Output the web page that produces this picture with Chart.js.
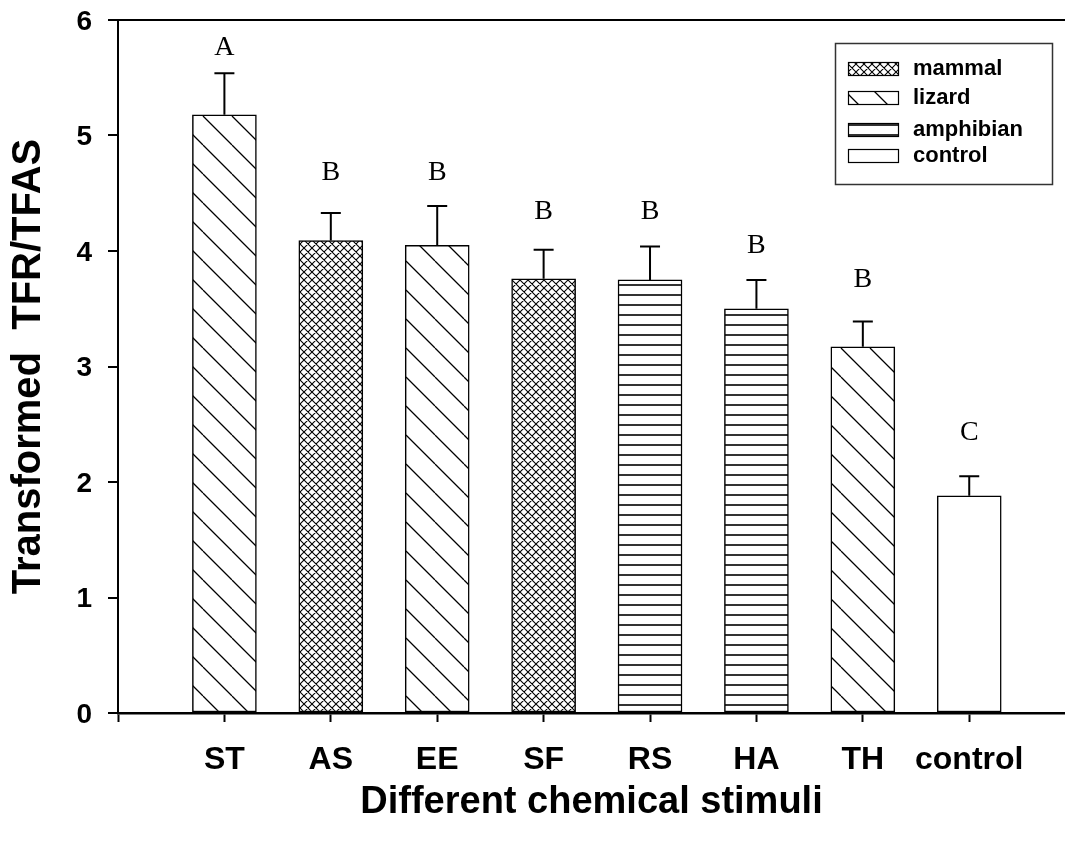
<!DOCTYPE html>
<html>
<head>
<meta charset="utf-8">
<title>Transformed TFR/TFAS by chemical stimulus</title>
<script src="https://cdn.jsdelivr.net/npm/chart.js@4.4.1/dist/chart.umd.min.js"></script>
<style>
  body { margin: 0; background: #fff; }
  canvas { display: block; }
</style>
</head>
<body>
<canvas id="chart" width="1065" height="841"></canvas>
<script>
// bar means, standard errors and significance letters per stimulus
const stimuli = ['ST', 'AS', 'EE', 'SF', 'RS', 'HA', 'TH', 'control'];
const stimulusGroup = ['lizard', 'mammal', 'lizard', 'mammal', 'amphibian', 'amphibian', 'lizard', 'control'];
const meanValues = [5.18, 4.09, 4.05, 3.76, 3.75, 3.50, 3.17, 1.88];
const stdErrors = [0.36, 0.24, 0.34, 0.25, 0.29, 0.25, 0.22, 0.17];
const letters = ['A', 'B', 'B', 'B', 'B', 'B', 'B', 'C'];
const letterLevels = [5.76, 4.68, 4.68, 4.34, 4.34, 4.05, 3.75, 2.43];
const legendGroups = ['mammal', 'lizard', 'amphibian', 'control'];
const yTicks = [0, 1, 2, 3, 4, 5, 6];

const SANS = '"Liberation Sans", Arial, Helvetica, sans-serif';
const SERIF = '"Liberation Serif", "Times New Roman", serif';

// hatch fills, one per animal group
function makePattern(kind) {
  const c = document.createElement('canvas');
  const g = c.getContext('2d');
  let s = 10;
  if (kind === 'lizard') s = 29;
  if (kind === 'mammal') s = 8;
  c.width = s; c.height = s;
  g.fillStyle = '#fff';
  g.fillRect(0, 0, s, s);
  g.strokeStyle = '#000';
  if (kind === 'lizard' || kind === 'mammal') {
    g.lineWidth = kind === 'lizard' ? 1.3 : 1.1;
    g.beginPath();
    for (const o of [-s, 0, s]) {
      g.moveTo(o, 0); g.lineTo(o + s, s);
      if (kind === 'mammal') { g.moveTo(o, s); g.lineTo(o + s, 0); }
    }
    g.stroke();
  } else if (kind === 'amphibian') {
    g.lineWidth = 1.6;
    g.beginPath();
    g.moveTo(0, 5); g.lineTo(s, 5);
    g.stroke();
  }
  return g.createPattern(c, 'repeat');
}

const patterns = {};
['mammal', 'lizard', 'amphibian', 'control'].forEach(k => patterns[k] = makePattern(k));

const errorBars = {
  id: 'errorBars',
  afterDatasetsDraw(chart) {
    const { ctx, scales: { x, y } } = chart;
    ctx.save();
    ctx.strokeStyle = '#000';
    ctx.lineWidth = 2;
    meanValues.forEach((m, i) => {
      const px = x.getPixelForValue(i);
      const top = y.getPixelForValue(m + stdErrors[i]);
      ctx.beginPath();
      ctx.moveTo(px, y.getPixelForValue(m));
      ctx.lineTo(px, top);
      ctx.moveTo(px - 10, top);
      ctx.lineTo(px + 10, top);
      ctx.stroke();
    });
    // letters of the post-hoc groups
    ctx.fillStyle = '#000';
    ctx.font = '28px ' + SERIF;
    ctx.textAlign = 'center';
    ctx.textBaseline = 'middle';
    letters.forEach((l, i) => {
      ctx.fillText(l, x.getPixelForValue(i), y.getPixelForValue(letterLevels[i]));
    });
    ctx.restore();
  }
};

const boxLegend = {
  id: 'boxLegend',
  afterDraw(chart) {
    const ctx = chart.ctx;
    const rows = [69, 98, 130, 156];
    ctx.save();
    ctx.strokeStyle = '#333';
    ctx.lineWidth = 1.5;
    ctx.strokeRect(835.5, 43.5, 217, 141);
    ctx.font = 'bold 22px ' + SANS;
    ctx.textBaseline = 'middle';
    ctx.textAlign = 'left';
    legendGroups.forEach((name, i) => {
      const cy = rows[i];
      ctx.fillStyle = patterns[name] || '#fff';
      ctx.fillRect(848, cy - 7, 51, 14);
      ctx.lineWidth = 1.2;
      ctx.strokeStyle = '#000';
      ctx.strokeRect(848.5, cy - 6.5, 50, 13);
      ctx.fillStyle = '#000';
      ctx.fillText(name, 913, cy);
    });
    ctx.restore();
  }
};

new Chart(document.getElementById('chart'), {
  type: 'bar',
  data: {
    datasets: [{
      data: meanValues.map((v, i) => ({ x: i, y: v })),
      backgroundColor: stimulusGroup.map(g => patterns[g]),
      borderColor: '#000',
      borderWidth: 1.5,
      borderSkipped: false,
      barThickness: 64
    }]
  },
  options: {
    responsive: false,
    animation: false,
    layout: { padding: { top: 20, right: 0, bottom: 0, left: 0 } },
    plugins: { legend: { display: false }, tooltip: { enabled: false } },
    scales: {
      x: {
        type: 'linear',
        min: -1,
        max: 7.9,
        offset: false,
        afterBuildTicks: s => { s.ticks = [-1].concat(stimuli.map((_, i) => i)).map(v => ({ value: v })); },
        afterFit: s => { s.height = 128; s.paddingLeft = 0; s.paddingRight = 0; },
        grid: { offset: false, drawOnChartArea: false, tickLength: 9, tickColor: '#000', tickWidth: 2 },
        border: { color: '#000', width: 2.5 },
        ticks: {
          autoSkip: false,
          maxRotation: 0,
          padding: 19,
          color: '#000',
          font: { family: SANS, size: 32, weight: 'bold' },
          callback: v => stimuli[v] ?? ''
        },
        title: {
          display: true,
          text: 'Different chemical stimuli',
          color: '#000',
          font: { family: SANS, size: 38, weight: 'bold' },
          padding: { top: 0, bottom: 16 }
        }
      },
      y: {
        min: 0,
        max: 6,
        afterBuildTicks: s => { s.ticks = yTicks.map(v => ({ value: v })); },
        afterFit: s => { s.width = 118; s.paddingTop = 0; s.paddingBottom = 0; },
        grid: {
          color: c => (c.tick && c.tick.value === 6 ? '#000' : 'rgba(0,0,0,0)'),
          lineWidth: 2,
          tickColor: '#000',
          tickLength: 10,
          tickWidth: 2
        },
        border: { color: '#000', width: 2 },
        ticks: {
          padding: 16,
          labelOffset: 2,
          color: '#000',
          font: { family: SANS, size: 28, weight: 'bold' }
        },
        title: {
          display: true,
          text: 'Transformed  TFR/TFAS',
          color: '#000',
          font: { family: SANS, size: 40, weight: 'bold' },
          padding: { top: 5, bottom: 0 }
        }
      }
    }
  },
  plugins: [errorBars, boxLegend]
});
</script>
</body>
</html>
